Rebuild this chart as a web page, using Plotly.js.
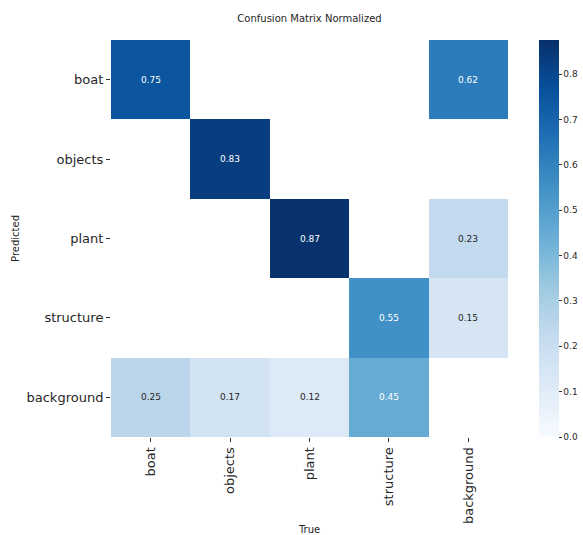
<!DOCTYPE html>
<html><head><meta charset="utf-8">
<script src="https://cdn.plot.ly/plotly-3.0.1.min.js"></script>
<style>html,body{margin:0;padding:0;background:#fff}</style>
</head><body><div id="chart" style="width:583px;height:535px"></div>
<script>
const trueLabels = ["boat", "objects", "plant", "structure", "background"];
const predLabels = ["boat", "objects", "plant", "structure", "background"];
const rowBoat = [0.75, null, null, null, 0.62];
const rowObjects = [null, 0.83, null, null, null];
const rowPlant = [null, null, 0.87, null, 0.23];
const rowStructure = [null, null, null, 0.55, 0.15];
const rowBackground = [0.25, 0.17, 0.12, 0.45, null];
const z = [rowBoat, rowObjects, rowPlant, rowStructure, rowBackground];

const blues = [
  [0, "#f7fbff"], [0.125, "#deebf7"], [0.25, "#c6dbef"], [0.375, "#9ecae1"],
  [0.5, "#6baed6"], [0.625, "#4292c6"], [0.75, "#2171b5"], [0.875, "#08519c"], [1, "#08306b"]
];
const zmax = 0.875;

const annotations = [];
z.forEach((row, i) => row.forEach((v, j) => {
  if (v === null) return;
  annotations.push({
    x: trueLabels[j], y: predLabels[i], xref: "x", yref: "y",
    text: v.toFixed(2), showarrow: false,
    font: {family: "DejaVu Sans", size: 9, color: v > 0.44 ? "#ffffff" : "#262626"}
  });
}));

const trace = {
  type: "heatmap", x: trueLabels, y: predLabels, z: z,
  colorscale: blues, zmin: 0, zmax: zmax, hoverongaps: false,
  colorbar: {
    x: 1.078, xanchor: "left", xref: "paper", xpad: 0, ypad: 0,
    thickness: 20, thicknessmode: "pixels",
    len: 1, lenmode: "fraction", y: 0.5, yanchor: "middle",
    outlinewidth: 0, ticks: "outside", ticklen: 3, tickcolor: "#333",
    tickvals: [0, 0.1, 0.2, 0.3, 0.4, 0.5, 0.6, 0.7, 0.8],
    ticktext: ["0.0", "0.1", "0.2", "0.3", "0.4", "0.5", "0.6", "0.7", "0.8"],
    tickfont: {family: "DejaVu Sans", size: 9, color: "#262626"}
  }
};

const layout = {
  width: 583, height: 535,
  margin: {l: 111, r: 75, t: 40, b: 98, autoexpand: false},
  paper_bgcolor: "#fff", plot_bgcolor: "#fff",
  title: {text: "Confusion Matrix Normalized", x: 0.5, xref: "paper", y: 0.966, yanchor: "middle",
          font: {family: "DejaVu Sans", size: 10, color: "#262626"}},
  xaxis: {
    type: "category", tickangle: -90, ticks: "outside", ticklen: 4, tickcolor: "#333",
    showgrid: false, zeroline: false, showline: false, automargin: true,
    tickfont: {family: "DejaVu Sans", size: 13, color: "#262626"},
    title: {text: "True", standoff: 10, font: {family: "DejaVu Sans", size: 10, color: "#262626"}}
  },
  yaxis: {
    type: "category", autorange: "reversed", ticks: "outside", ticklen: 4, tickcolor: "#333",
    showgrid: false, zeroline: false, showline: false, automargin: true,
    tickfont: {family: "DejaVu Sans", size: 13, color: "#262626"},
    title: {text: "Predicted", standoff: 5, font: {family: "DejaVu Sans", size: 10, color: "#262626"}}
  },
  annotations: annotations
};

Plotly.newPlot("chart", [trace], layout, {displayModeBar: false, staticPlot: true});
</script></body></html>
